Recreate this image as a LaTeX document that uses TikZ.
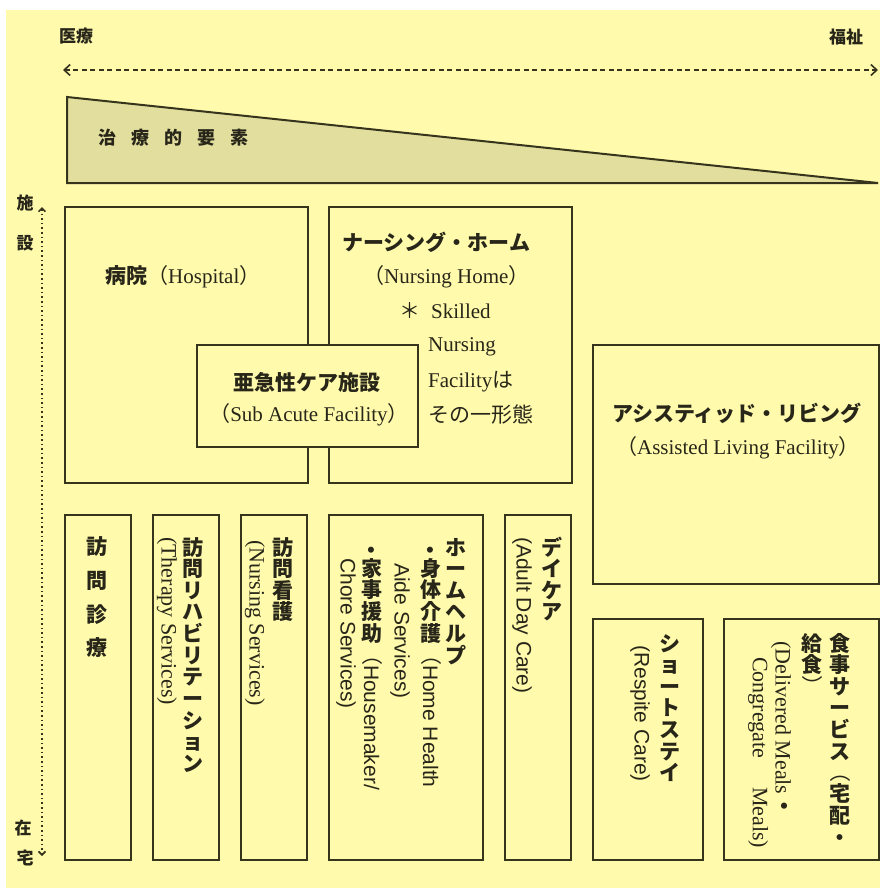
\documentclass[tikz,border=0pt]{standalone}
\usepackage{fontspec}
\usepackage{graphicx}
\setmainfont{Liberation Serif}
\setsansfont{Liberation Sans}
\newfontfamily\jpf{Noto Sans CJK JP}
\usetikzlibrary{arrows.meta}
\definecolor{bg}{RGB}{255,250,172}
\definecolor{trifill}{RGB}{226,223,158}
\definecolor{ln}{RGB}{55,52,30}
\definecolor{tx}{RGB}{40,38,25}
% vertical Japanese helpers
\def\Vend{\Vend}
\newcommand\Vp{1.03}
\newcommand\Vchar[1]{\rotatebox[origin=c]{90}{\makebox[1em]{\rule[-\dimexpr\Vp em/2-0.38em\relax]{0pt}{\Vp em}#1}}}
\def\Vloop#1{\ifx#1\Vend\else\Vchar{#1}\expandafter\Vloop\fi}
\newcommand\Vt[2][1.03]{{\renewcommand\Vp{#1}\jpf\bfseries\Vloop#2\Vend}}
\newcommand\Jp[1]{{\jpf\bfseries #1}}
\newcommand\Jm[1]{{\jpf\mdseries #1}}
\newcommand\jlp{{\jpf\mdseries （}}
\newcommand\jrp{{\jpf\mdseries ）}}
\newcommand\gp{\hspace{15pt}}
\newcommand\bul{\hspace{1.5pt}{\sffamily\bfseries •}\hspace{3.5pt}}
\begin{document}
\begin{tikzpicture}[x=1pt,y=-1pt,
  bx/.style={draw=ln, line width=1.8pt, inner sep=0pt, outer sep=0pt},
  t/.style={inner sep=0pt, text=tx},
  vcol/.style={t, rotate=-90, anchor=west},
  ser/.style={font=\fontsize{21}{25}\selectfont},
  vser/.style={font=\fontsize{22}{26}\selectfont},
  san/.style={font=\sffamily\fontsize{21}{25}\selectfont},
  jsmall/.style={font=\jpf\bfseries\fontsize{17}{20}\selectfont},
]
\useasboundingbox (0,0) rectangle (880,888);
\fill[white] (0,0) rectangle (880,888);
\fill[bg] (6,10) rectangle (880,888);

% top axis
\node[t, jsmall] (iryo) at (76,36) {医療};
\node[t, jsmall] (fukushi) at (846,37) {福祉};
\coordinate (arl) at (63,70);
\coordinate (arr) at (878,70);
\draw[ln, line width=1.6pt, dash pattern=on 5pt off 3.5pt,
  {Straight Barb[length=6pt,width=11pt]}-{Straight Barb[length=6pt,width=11pt]}] (arl) -- (arr);

% triangle
\coordinate (ta) at (67,97);
\coordinate (tb) at (67,183);
\coordinate (tc) at (878,183);
\filldraw[fill=trifill, draw=ln, line width=2pt, line join=miter] (ta) -- (tb) -- (tc) -- cycle;
\node[t, anchor=west, font=\jpf\bfseries\fontsize{18}{20}\selectfont] (chiryo) at (98,138) {治\gp 療\gp 的\gp 要\gp 素};

% vertical axis
\node[t, jsmall] (shi) at (25,203) {施};
\node[t, jsmall] (setsu) at (25,243) {設};
\node[t, jsmall] (zai) at (23,828) {在};
\node[t, jsmall] (taku) at (25,858) {宅};
\coordinate (vt) at (42,207);
\coordinate (vb) at (42,856);
\draw[ln, line width=1.6pt, dash pattern=on 1.6pt off 3pt,
  {Straight Barb[length=3.5pt,width=7pt]}-{Straight Barb[length=3.5pt,width=7pt]}] (vt) -- (vb);

% facility boxes
\node[bx, minimum width=243pt, minimum height=276pt] (hosp) at (186.5,345) {};
\node[bx, minimum width=243pt, minimum height=276pt] (nurse) at (450.5,345) {};
\node[bx, fill=bg, minimum width=221pt, minimum height=102pt] (subac) at (307.5,396) {};
\node[bx, minimum width=286pt, minimum height=239pt] (assist) at (736,464.5) {};

% home service boxes
\node[bx, minimum width=66pt, minimum height=345pt] (shinryo) at (98,687.5) {};
\node[bx, minimum width=66pt, minimum height=345pt] (reha) at (186,687.5) {};
\node[bx, minimum width=66pt, minimum height=345pt] (kango) at (274,687.5) {};
\node[bx, minimum width=154pt, minimum height=345pt] (helper) at (406,687.5) {};
\node[bx, minimum width=66pt, minimum height=345pt] (daycare) at (538,687.5) {};
\node[bx, minimum width=110pt, minimum height=241pt] (short) at (648,739.5) {};
\node[bx, minimum width=155pt, minimum height=241pt] (meal) at (801.5,739.5) {};

% horizontal texts
\node[t, ser, anchor=west] (hospt) at (105,277) {\Jp{病院}\jlp Hospital\jrp};
\node[t, ser, anchor=west] (nh1) at (342,242) {\Jp{ナーシング・ホーム}};
\node[t, ser, anchor=west] (nh2) at (363,277) {\jlp Nursing Home\jrp};
\node[t, ser, anchor=west] (nh3) at (399,311) {\Jm{＊}\hspace{11pt}Skilled};
\node[t, ser, anchor=west] (nh4) at (428,347) {Nursing};
\node[t, ser, anchor=west] (nh5) at (428,382) {Facility\Jm{は}};
\node[t, ser, anchor=west] (nh6) at (428,415) {\Jm{その一形態}};
\node[t, ser] (sa1) at (307,382) {\Jp{亜急性ケア施設}};
\node[t, ser] (sa2) at (309,415) {\jlp Sub Acute Facility\jrp};
\node[t, ser] (al1) at (737,413) {\Jp{アシスティッド・リビング}};
\node[t, ser] (al2) at (738,448) {\jlp Assisted Living Facility\jrp};

% vertical texts
\node[vcol, ser] (v1) at (97,530) {\Vt[1.6]{訪問診療}};
\node[vcol, ser] (v2) at (193,536) {\Vt{訪問リハビリテーション}};
\node[vcol, vser] (v3) at (167,537) {(Therapy Services)};
\node[vcol, ser] (v4) at (283,536) {\Vt{訪問看護}};
\node[vcol, vser] (v5) at (255,540) {(Nursing Services)};
\node[vcol, ser] (v6) at (456,536) {\Vt{ホームヘルプ}};
\node[vcol, san] (v7) at (431,545) {\bul\Vt{身体介護}\jlp Home Health};
\node[vcol, san] (v8) at (400,563) {Aide Services)};
\node[vcol, san] (v9) at (372,545) {\bul\Vt{家事援助}\jlp Housemaker/};
\node[vcol, san] (v10) at (346,558) {Chore Services)};
\node[vcol, ser] (v11) at (552,536) {\Vt{デイケア}};
\node[vcol, san] (v12) at (522,537) {(Adult Day Care)};
\node[vcol, ser] (v13) at (670,632) {\Vt{ショートステイ}};
\node[vcol, san] (v14) at (640,645) {(Respite Care)};
\node[vcol, ser] (v15) at (840,632) {\Vt{食事サービス}\jlp\Vt{宅配・}};
\node[vcol, ser] (v16) at (812,632) {\Vt{給食}\jrp};
\node[vcol, vser] (v17) at (783,641) {(Delivered Meals\Vt{・}};
\node[vcol, vser] (v18) at (758,657) {Congregate\hspace{1.3em}Meals)};
\end{tikzpicture}
\end{document}
